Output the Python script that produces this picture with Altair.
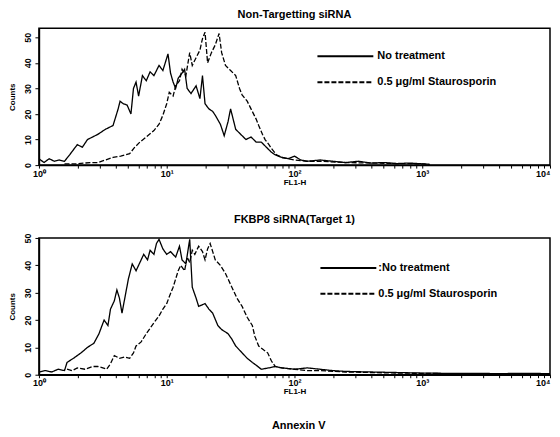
import altair as alt
import pandas as pd

FONT = "Liberation Sans"

# ---- data (x given as log10 of FL1-H, y = counts) ----
top_solid_log = [0.00, 0.04, 0.08, 0.12, 0.16, 0.20, 0.24, 0.30, 0.34, 0.38, 0.42, 0.46, 0.52, 0.58,
                 0.62, 0.635, 0.66, 0.69, 0.72, 0.74, 0.76, 0.78, 0.81, 0.84, 0.87, 0.90, 0.94, 0.97,
                 1.01, 1.03, 1.05, 1.07, 1.09, 1.12, 1.14, 1.16, 1.19, 1.23, 1.26, 1.28, 1.30, 1.33,
                 1.36, 1.38, 1.42, 1.45, 1.48, 1.50, 1.52, 1.54, 1.58, 1.62, 1.66, 1.70, 1.74, 1.78,
                 1.82, 1.85, 1.90, 1.95, 2.00, 2.05, 2.10, 2.20, 2.30, 2.40, 2.50, 2.60, 2.70, 2.80,
                 2.90, 3.00, 3.06]
top_solid_cnt = [2.5, 1, 2.5, 1.5, 2, 1.5, 4, 8, 7, 10, 11, 12, 14, 15.5,
                 22, 25, 24, 23.5, 20, 30, 32.5, 27, 35, 33, 36.5, 35, 39, 37,
                 43.5, 36, 32.5, 30, 34, 36, 37.5, 30, 28, 31, 26, 35, 24, 22,
                 21, 19.5, 16, 11.5, 17, 22, 18, 14, 12, 10, 11, 9, 9, 7,
                 5, 4, 3, 2.5, 3.5, 2, 1.5, 2, 1.5, 1, 1.5, 0.8, 1, 0.6,
                 0.8, 0.5, 0.3]

top_dash_log = [0.20, 0.30, 0.40, 0.46, 0.52, 0.58, 0.64, 0.71, 0.75, 0.79, 0.84, 0.90, 0.94, 0.97,
                1.00, 1.02, 1.05, 1.07, 1.10, 1.12, 1.15, 1.18, 1.20, 1.23, 1.26, 1.28, 1.30, 1.32,
                1.35, 1.38, 1.41, 1.43, 1.46, 1.50, 1.54, 1.57, 1.59, 1.63, 1.67, 1.70, 1.72, 1.75,
                1.77, 1.80, 1.82, 1.86, 1.90, 1.95, 2.00, 2.10, 2.20, 2.40, 2.60, 2.80, 3.00, 3.05]
top_dash_cnt = [0.5, 0.5, 1, 1, 2, 3, 3.5, 4.5, 7, 9, 11, 13.5, 16, 19.5,
                24, 28.5, 27, 31, 33, 37.5, 35, 44, 39, 42, 45, 49.5, 52, 40,
                44, 47, 51.5, 44, 39, 37, 35, 30, 27.5, 25, 21, 18, 15.5, 12,
                10, 8, 6.5, 4, 3, 2.5, 2, 1.5, 1.5, 1, 0.8, 0.6, 0.5, 0.3]

bot_solid_log = [0.00, 0.05, 0.10, 0.15, 0.20, 0.22, 0.27, 0.33, 0.38, 0.43, 0.47, 0.51, 0.54, 0.56,
                 0.59, 0.61, 0.63, 0.65, 0.68, 0.70, 0.73, 0.76, 0.79, 0.82, 0.85, 0.87, 0.90, 0.92,
                 0.94, 0.97, 1.00, 1.03, 1.07, 1.10, 1.12, 1.15, 1.18, 1.20, 1.23, 1.25, 1.30, 1.33,
                 1.36, 1.40, 1.43, 1.48, 1.51, 1.54, 1.59, 1.63, 1.67, 1.70, 1.74, 1.80, 1.85, 1.90,
                 2.00, 2.10, 2.20, 2.30, 2.40, 2.60, 2.80, 3.00, 3.20, 3.40, 3.60, 3.80, 4.00]
bot_solid_cnt = [1, 1.5, 1, 2, 1.5, 4.5, 6, 8, 10, 11.5, 15, 20, 18, 24,
                 27, 31, 28, 22.5, 30, 35, 40.5, 38, 41, 44, 42, 45.5, 44, 48,
                 49.5, 46, 44, 45, 43, 47, 42, 40.5, 49.5, 32, 28, 25, 26, 24,
                 22.5, 18, 16.5, 15, 13, 10.5, 8, 6, 4.5, 3.5, 2, 2.5, 3, 2.5,
                 2, 2.5, 2, 1.5, 1.2, 1, 0.8, 0.6, 0.5, 0.5, 0.4, 0.5, 0.4]

bot_dash_log = [0.22, 0.26, 0.30, 0.36, 0.42, 0.46, 0.50, 0.53, 0.56, 0.59, 0.63, 0.67, 0.71, 0.74,
                0.76, 0.80, 0.84, 0.87, 0.90, 0.94, 0.97, 1.00, 1.02, 1.05, 1.07, 1.09, 1.11, 1.14,
                1.16, 1.18, 1.20, 1.22, 1.25, 1.28, 1.30, 1.32, 1.34, 1.36, 1.38, 1.42, 1.46, 1.48,
                1.51, 1.55, 1.59, 1.63, 1.67, 1.69, 1.72, 1.76, 1.79, 1.82, 1.85, 1.90, 2.00, 2.10,
                2.20, 2.40, 2.60, 2.80, 3.00, 3.20]
bot_dash_cnt = [2, 1.5, 2.5, 2, 3, 3, 2.5, 2, 4, 7, 6, 6.5, 6, 8,
                10.5, 12, 15, 17, 19, 21.5, 24, 26, 28.5, 32, 35, 38, 40, 38,
                43, 41, 45.5, 44, 47, 45, 42, 46, 48, 45, 42, 40, 37, 35,
                32, 28, 25, 21, 18, 14, 10.5, 9, 8, 5, 3, 2.5, 2, 1.5,
                1.5, 1, 0.8, 0.6, 0.5, 0.4]

labels_top = ["No treatment", "0.5 \u03bcg/ml Staurosporin"]
labels_bot = [":No treatment", "0.5 \u03bcg/ml Staurosporin"]
title_top = "Non-Targetting siRNA"
title_bot = "FKBP8 siRNA(Target 1)"
y_ticks = [0, 10, 20, 30, 40, 50]
x_ticks = [m * 10 ** e for e in range(4) for m in range(1, 10)] + [10000]


def frame(logs, counts, series):
    return pd.DataFrame({"fl1h": [10 ** v for v in logs], "counts": counts, "series": series})


label_expr = ("datum.value == 1 ? '10\u2070' : datum.value == 10 ? '10\u00b9' : "
              "datum.value == 100 ? '10\u00b2' : datum.value == 1000 ? '10\u00b3' : "
              "datum.value == 10000 ? '10\u2074' : ''")


def panel(df, labels, title, ymax, lx, ly, loff):
    return alt.Chart(df, title=alt.TitleParams(title, font=FONT, fontSize=11, fontWeight="bold",
                                               offset=8, anchor="middle")).mark_line(
        color="black", strokeWidth=1.3, clip=True
    ).encode(
        x=alt.X("fl1h:Q",
                scale=alt.Scale(type="log", domain=[1, 10000], nice=False),
                axis=alt.Axis(values=x_ticks, labelExpr=label_expr, title="FL1-H",
                              grid=False, tickSize=3, labelFlush=False, labelOverlap=False,
                              labelAlign={"condition": {"test": "datum.value == 10000", "value": "right"},
                                          "value": "center"},
                              labelFont=FONT, labelFontSize=9, labelFontWeight="bold",
                              titleFont=FONT, titleFontSize=8, titleFontWeight="bold",
                              titlePadding=0, labelPadding=1,
                              domainColor="black", tickColor="black", labelColor="black")),
        y=alt.Y("counts:Q",
                scale=alt.Scale(domain=[0, ymax], nice=False),
                axis=alt.Axis(values=y_ticks, title="Counts", grid=False, tickSize=4,
                              labelAngle=270, labelFont=FONT, labelFontSize=9,
                              labelFontWeight="bold", labelPadding=2,
                              titleFont=FONT, titleFontSize=8, titleFontWeight="bold",
                              titlePadding=5, minExtent=17, maxExtent=17,
                              domainColor="black", tickColor="black", labelColor="black")),
        strokeDash=alt.StrokeDash("series:N",
                                  scale=alt.Scale(domain=labels, range=[[1, 0], [5, 2]]),
                                  legend=alt.Legend(title=None, orient="none", legendX=lx, legendY=ly,
                                                    symbolType="M-1.4,0H1.4", symbolSize=1600,
                                                    symbolStrokeWidth=2, symbolStrokeColor="black",
                                                    labelFont=FONT, labelFontSize=11,
                                                    labelFontWeight="bold", labelColor="black",
                                                    rowPadding=0, labelOffset=loff)),
    ).properties(width=512, height=137)


top_df = pd.concat([frame(top_solid_log, top_solid_cnt, labels_top[0]),
                    frame(top_dash_log, top_dash_cnt, labels_top[1])])
bot_df = pd.concat([frame(bot_solid_log, bot_solid_cnt, labels_bot[0]),
                    frame(bot_dash_log, bot_dash_cnt, labels_bot[1])])

top = panel(top_df, labels_top, title_top, 53.5, 286, 7, 11)
bot = panel(bot_df, labels_bot, title_bot, 50, 289, 9, 9)

chart = alt.vconcat(top, bot, spacing=26, title=alt.TitleParams(
    "Annexin V", orient="bottom", anchor="middle", font=FONT, fontSize=11,
    fontWeight="bold", offset=24, dx=19)
).resolve_scale(strokeDash="independent").properties(padding=0).configure_view(
    stroke="black", strokeWidth=1.5
).configure_axis(domainWidth=1.5)

chart.save("out.html", embed_options={"renderer": "svg", "actions": False})
